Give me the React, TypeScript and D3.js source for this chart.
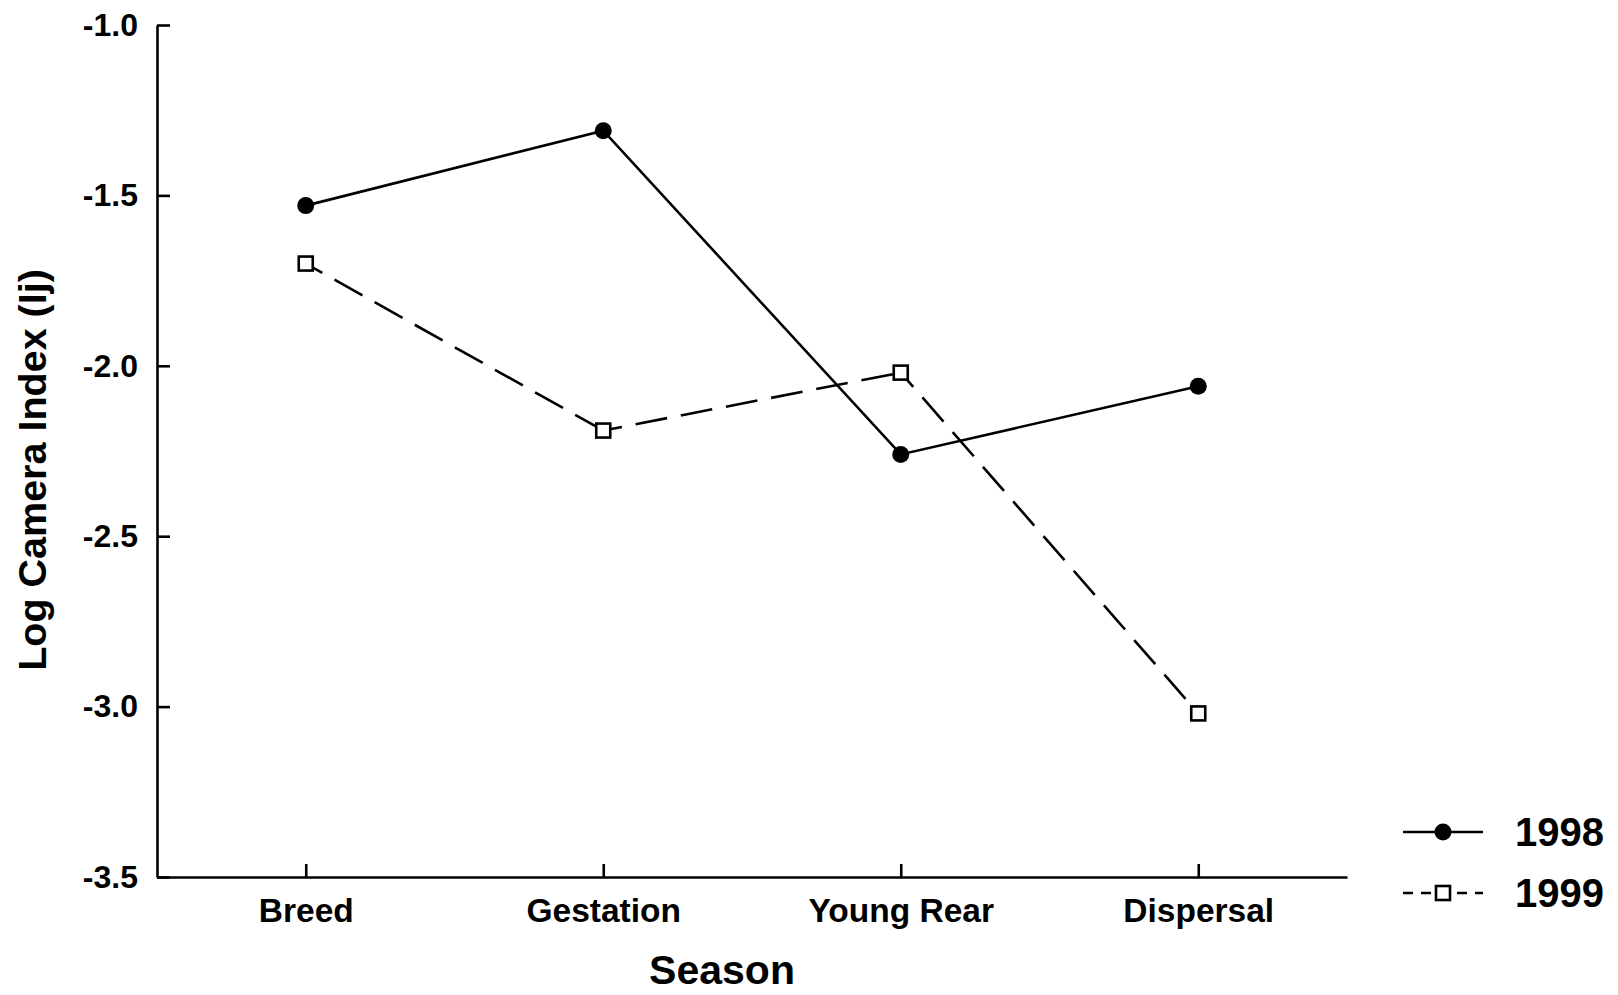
import React, { useEffect, useRef } from "react";
import * as d3 from "d3";

const seasons = ["Breed", "Gestation", "Young Rear", "Dispersal"];
const values1998 = [-1.53, -1.31, -2.26, -2.06];
const values1999 = [-1.7, -2.19, -2.02, -3.02];
const yTicks = [-1.0, -1.5, -2.0, -2.5, -3.0, -3.5];
const seriesNames = ["1998", "1999"];

const FONT = "'Liberation Sans', Arial, Helvetica, sans-serif";

export default function App() {
  const svgRef = useRef<SVGSVGElement>(null);

  useEffect(() => {
    if (!svgRef.current) return;
    const svg = d3.select(svgRef.current);
    svg.selectAll("*").remove();

    const left = 157;
    const right = 1347;
    const top = 25;
    const bottom = 877;

    const x = d3.scalePoint<string>().domain(seasons).range([left, right]).padding(0.5);
    const y = d3.scaleLinear().domain([-3.5, -1.0]).range([bottom, top]);

    // y axis, ticks pointing inward
    const yAxis = d3
      .axisLeft(y)
      .tickValues(yTicks)
      .tickFormat((d) => (d as number).toFixed(1))
      .tickSizeInner(-13)
      .tickSizeOuter(0)
      .tickPadding(19);

    const gy = svg.append("g").attr("transform", `translate(${left},0)`).call(yAxis);
    gy.selectAll("path, line").attr("stroke", "#000").attr("stroke-width", 2.6);
    gy.selectAll("text")
      .attr("font-family", FONT)
      .attr("font-weight", "bold")
      .attr("font-size", 32)
      .attr("fill", "#000");

    // x axis
    const xAxis = d3.axisBottom(x).tickSizeInner(-13).tickSizeOuter(0).tickPadding(21);
    const gx = svg.append("g").attr("transform", `translate(0,${bottom})`).call(xAxis);
    gx.selectAll("path, line").attr("stroke", "#000").attr("stroke-width", 2.6);
    gx.selectAll("text")
      .attr("font-family", FONT)
      .attr("font-weight", "bold")
      .attr("font-size", 33.5)
      .attr("fill", "#000");

    // axis titles
    svg
      .append("text")
      .attr("x", 722)
      .attr("y", 984)
      .attr("text-anchor", "middle")
      .attr("font-family", FONT)
      .attr("font-weight", "bold")
      .attr("font-size", 41)
      .text("Season");

    svg
      .append("text")
      .attr("transform", `translate(46,470) rotate(-90)`)
      .attr("text-anchor", "middle")
      .attr("font-family", FONT)
      .attr("font-weight", "bold")
      .attr("font-size", 39.5)
      .text("Log Camera Index (Ij)");

    const line = d3
      .line<[string, number]>()
      .x((d) => x(d[0]) as number)
      .y((d) => y(d[1]));

    const pts1998: [string, number][] = seasons.map((s, i) => [s, values1998[i]]);
    const pts1999: [string, number][] = seasons.map((s, i) => [s, values1999[i]]);

    // 1998 solid
    svg
      .append("path")
      .datum(pts1998)
      .attr("fill", "none")
      .attr("stroke", "#000")
      .attr("stroke-width", 2.6)
      .attr("d", line);

    // 1999 dashed, each segment starts its own dash pattern
    d3.pairs(pts1999).forEach((pair) => {
      svg
        .append("path")
        .datum(pair)
        .attr("fill", "none")
        .attr("stroke", "#000")
        .attr("stroke-width", 2.6)
        .attr("stroke-dasharray", "32 14")
        .attr("stroke-dashoffset", 13)
        .attr("d", line);
    });

    svg
      .selectAll("circle.p98")
      .data(pts1998)
      .enter()
      .append("circle")
      .attr("cx", (d) => x(d[0]) as number)
      .attr("cy", (d) => y(d[1]))
      .attr("r", 8.5)
      .attr("fill", "#000");

    const sq = 14;
    svg
      .selectAll("rect.p99")
      .data(pts1999)
      .enter()
      .append("rect")
      .attr("x", (d) => (x(d[0]) as number) - sq / 2)
      .attr("y", (d) => y(d[1]) - sq / 2)
      .attr("width", sq)
      .attr("height", sq)
      .attr("fill", "#fff")
      .attr("stroke", "#000")
      .attr("stroke-width", 2.6);

    // legend
    const legend = svg.append("g");
    seriesNames.forEach((name, i) => {
      const ly = 832 + i * 61;
      legend
        .append("line")
        .attr("x1", 1403)
        .attr("x2", 1483)
        .attr("y1", ly)
        .attr("y2", ly)
        .attr("stroke", "#000")
        .attr("stroke-width", 2.6)
        .attr("stroke-dasharray", i === 0 ? null : "10 8");
      if (i === 0) {
        legend.append("circle").attr("cx", 1443).attr("cy", ly).attr("r", 8.5).attr("fill", "#000");
      } else {
        legend
          .append("rect")
          .attr("x", 1443 - sq / 2)
          .attr("y", ly - sq / 2)
          .attr("width", sq)
          .attr("height", sq)
          .attr("fill", "#fff")
          .attr("stroke", "#000")
          .attr("stroke-width", 2.6);
      }
      legend
        .append("text")
        .attr("x", 1515)
        .attr("y", ly)
        .attr("dy", "0.36em")
        .attr("font-family", FONT)
        .attr("font-weight", "bold")
        .attr("font-size", 40)
        .text(name);
    });
  }, []);

  return (
    <svg
      ref={svgRef}
      width={1618}
      height={995}
      style={{ position: "absolute", left: 0, top: 0, background: "#fff" }}
    />
  );
}
